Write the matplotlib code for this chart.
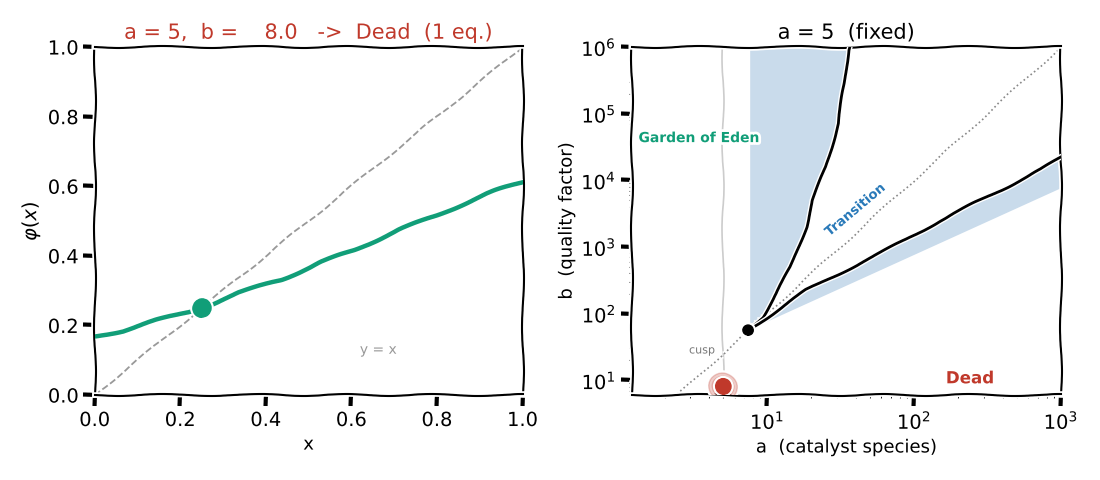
import numpy as np
import matplotlib
matplotlib.use("Agg")
import matplotlib.pyplot as plt

RED = "#c0392b"
GREEN = "#119e78"
BLUE = "#2a7ab9"
FILL = "#c9dbeb"

# left panel: map phi(x) for a = 5, b = 8
phi_x = [0.0, 0.066, 0.143, 0.221, 0.25, 0.337, 0.438, 0.531, 0.609, 0.709, 0.802, 0.919, 1.0]
phi_y = [0.168, 0.185, 0.214, 0.239, 0.25, 0.294, 0.332, 0.383, 0.417, 0.474, 0.517, 0.580, 0.612]
ident = [0.0, 1.0]
fixed_x, fixed_y = 0.25, 0.25

# right panel: phase diagram in (a, b)
upper_a = [7.41, 9.29, 11.5, 14.5, 18.4, 20.4, 25.2, 30.3, 33.7, 35.5, 36.0]
upper_b = [56, 89, 200, 502, 2000, 5050, 16000, 71400, 285000, 900000, 1e6]
lower_a = [7.41, 10.9, 18.4, 31.1, 52.6, 89.1, 151, 255, 431, 730, 1000]
lower_b = [56, 100, 224, 400, 720, 1300, 2500, 4500, 8000, 14500, 22000]
eden_edge_a = 7.6
dead_edge_a = [7.41, 1000]
dead_edge_b = [56, 7600]
diag_a = [1.2, 1000]
diag_b = [1.44, 1e6]
cusp_a, cusp_b = 7.41, 56
cur_a, cur_b = 5, 8.0

plt.xkcd()
plt.rcParams["font.family"] = ["DejaVu Sans"]

fig = plt.figure(figsize=(11, 4.8), dpi=100)
ax1 = fig.add_axes([0.086, 0.177, 0.389, 0.725])
ax2 = fig.add_axes([0.5745, 0.177, 0.39, 0.725])

# ---- left
ax1.plot(ident, ident, "--", color="#999999", lw=1.3, zorder=2)
ax1.plot(phi_x, phi_y, color=GREEN, lw=3.2, zorder=3)
ax1.plot(fixed_x, fixed_y, "o", color=GREEN, ms=13, zorder=4)
ax1.text(0.663, 0.13, "y = x", color="#999999", fontsize=10, ha="center", va="center")
ax1.set_xlim(0, 1)
ax1.set_ylim(0, 1)
ax1.set_xticks(np.arange(0, 1.01, 0.2))
ax1.set_yticks(np.arange(0, 1.01, 0.2))
ax1.set_xlabel("x", fontsize=13)
ax1.set_ylabel(r"$\varphi(x)$", fontsize=14)
ax1.set_title("a = 5,  b =    8.0   ->  Dead  (1 eq.)", color=RED, fontsize=15)
ax1.tick_params(labelsize=14)

# ---- right
ax2.set_xscale("log")
ax2.set_yscale("log")

up = ax2.fill_betweenx(upper_b, eden_edge_a, upper_a, color=FILL, lw=0, zorder=1)
up.set_sketch_params(None)
dn = ax2.fill(lower_a + dead_edge_a[::-1], lower_b + dead_edge_b[::-1], color=FILL, lw=0, zorder=1)[0]
dn.set_sketch_params(None)

ax2.axvline(cur_a, color="#cccccc", lw=1.2, zorder=1)
ax2.plot(diag_a, diag_b, ":", color="#888888", lw=1.2, zorder=2)
ax2.plot(upper_a, upper_b, color="black", lw=2, zorder=3)
ax2.plot(lower_a, lower_b, color="black", lw=2, zorder=3)
ax2.plot(cusp_a, cusp_b, "o", color="black", ms=7, zorder=4)
ax2.plot(cur_a, cur_b, "o", color=RED, ms=20, alpha=0.25, zorder=4)
ax2.plot(cur_a, cur_b, "o", color=RED, ms=11, zorder=5)

ax2.text(1.33, 4.3e4, "Garden of Eden", color=GREEN, fontsize=10, fontweight="bold",
         ha="left", va="center")
ax2.text(40, 3600, "Transition", color=BLUE, fontsize=9.5, fontweight="bold",
         rotation=40, ha="center", va="center")
ax2.text(240, 10.7, "Dead", color=RED, fontsize=12, fontweight="bold", ha="center", va="center")
ax2.text(3.6, 28, "cusp", color="#777777", fontsize=8, ha="center", va="center")

ax2.set_xlim(1.2, 1000)
ax2.set_ylim(6, 1e6)
ax2.set_xticks([10, 100, 1000])
ax2.set_yticks([1e1, 1e2, 1e3, 1e4, 1e5, 1e6])
ax2.set_xlabel("a  (catalyst species)", fontsize=13)
ax2.set_ylabel("b  (quality factor)", fontsize=13)
ax2.set_title("a = 5  (fixed)", fontsize=15)
ax2.tick_params(labelsize=14)

fig.savefig("out.png", dpi=100)
